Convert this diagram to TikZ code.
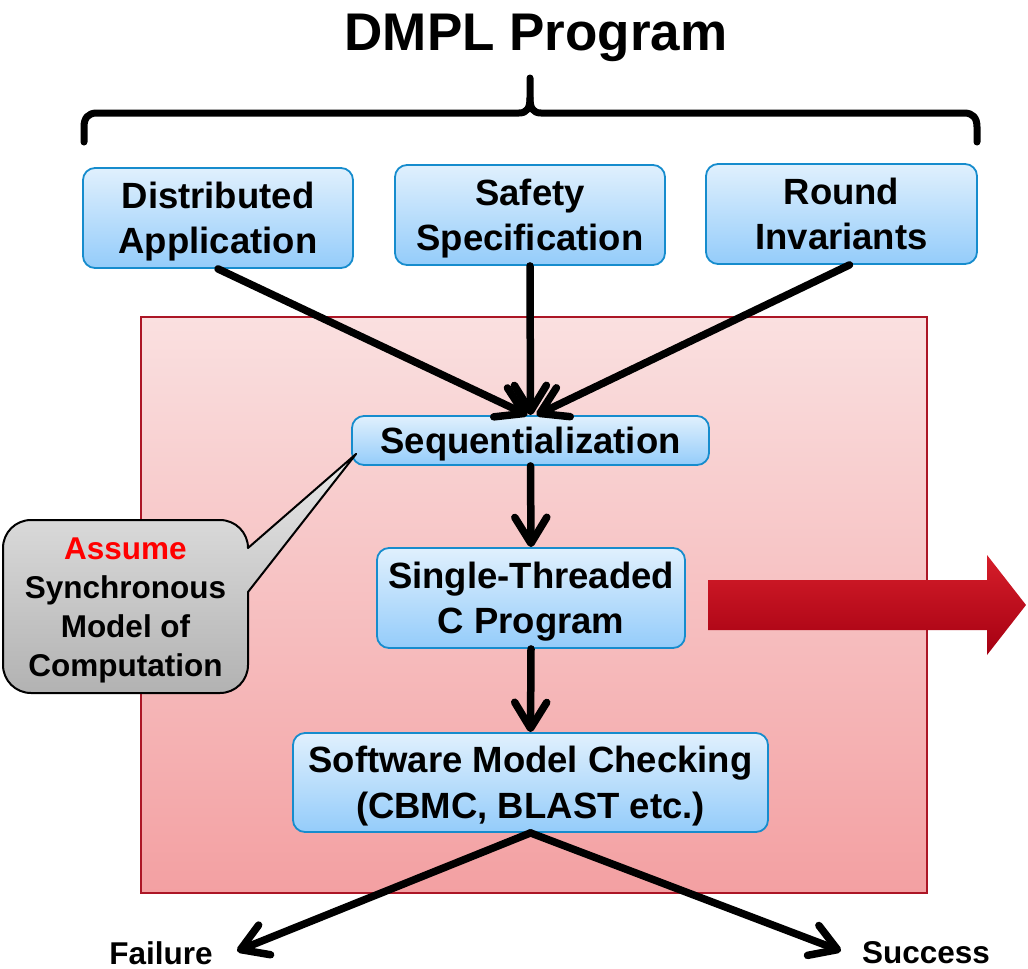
\documentclass[tikz,border=0pt]{standalone}
\usepackage{fontspec}
\setmainfont{Liberation Sans}
\usetikzlibrary{arrows.meta,calc}

\definecolor{boxtop}{RGB}{224,240,253}
\definecolor{boxbot}{RGB}{148,204,250}
\definecolor{boxline}{RGB}{22,140,205}
\definecolor{pinktop}{RGB}{250,224,224}
\definecolor{pinkbot}{RGB}{243,160,162}
\definecolor{pinkline}{RGB}{172,22,38}
\definecolor{calltop}{RGB}{232,232,232}
\definecolor{callbot}{RGB}{178,178,178}
\definecolor{arrowtop}{RGB}{214,30,42}
\definecolor{arrowbot}{RGB}{165,0,18}

\tikzset{
  % text is centred on its capital height: pad the top line up and the last line down
  stagebox/.style={draw=boxline, line width=1.8pt, rounded corners=12pt,
    top color=boxtop, bottom color=boxbot, align=center, inner sep=0pt,
    font=\fontsize{36.5}{45.5}\selectfont\bfseries,
    execute at begin node={\rule{0pt}{33.8pt}},
    execute at end node={\rule[-7.7pt]{0pt}{7.7pt}}},
  % two lines: the pad is measured from the baseline of the last line
  twoline/.style={execute at begin node={\rule{0pt}{79.3pt}}},
  flow/.style={line width=7.5pt, line cap=round,
    -{Straight Barb[length=26pt,width=32pt,line cap=round,line join=round]}},
  outcome/.style={font=\fontsize{31.5}{36}\selectfont\bfseries}
}

\begin{document}
\begin{tikzpicture}[x=1pt,y=-1pt]
\useasboundingbox (0,0) rectangle (1028,969);

% translation stage backdrop
\shade[top color=pinktop, bottom color=pinkbot] (141,317) rectangle (927,893);
\draw[pinkline, line width=2pt] (141,317) rectangle (927,893);

% title and brace
\node[font=\fontsize{53}{60}\selectfont\bfseries, anchor=base] (title) at (536,50) {DMPL Program};
\draw[line width=7pt, line cap=round, line join=round]
  (84,142) -- (84,127) .. controls (84,118) and (88,113) .. (97,113)
  -- (519,113) .. controls (527,113) and (530,108) .. (530,98) -- (530,78);
\draw[line width=7pt, line cap=round, line join=round]
  (530,98) .. controls (530,108) and (533,113) .. (541,113)
  -- (964,113) .. controls (973,113) and (977,118) .. (977,127) -- (977,142);

% inputs
\node[stagebox, twoline, minimum width=270pt, minimum height=100pt] (dist) at (218,218) {Distributed\\Application};
\node[stagebox, twoline, minimum width=270pt, minimum height=100pt] (safe) at (530,215) {Safety\\Specification};
\node[stagebox, twoline, minimum width=271pt, minimum height=100pt] (inv) at (841.5,214) {Round\\Invariants};

% pipeline
\node[stagebox, minimum width=357pt, minimum height=49pt] (seq) at (530.5,440.5) {Sequentialization};
\node[stagebox, twoline, minimum width=308pt, minimum height=100pt] (single) at (531,598) {Single-Threaded\\C Program};
\node[stagebox, twoline, minimum width=475pt, minimum height=99pt] (smc) at (530.5,782.5) {Software Model Checking\\(CBMC, BLAST etc.)};

% outcomes
\node[outcome] (fail) at (161,953) {Failure};
\node[outcome] (succ) at (926,953) {Success};
\coordinate (failtip) at (237,951);
\coordinate (succtip) at (841,951);

% connectors
\draw[flow] (dist.south) -- ($(seq.north)+(-3,0)$);
\draw[flow] (safe.south) -- (seq.north);
\draw[flow] ($(inv.south)+(8,0)$) -- ($(seq.north)+(6,0)$);
\draw[flow] (seq.south) -- (single.north);
\draw[flow] (single.south) -- (smc.north);
\draw[flow] (smc.south) -- (failtip);
\draw[flow] (smc.south) -- (succtip);

% output arrow
\shade[top color=arrowtop, bottom color=arrowbot]
  (708,580) -- (987,580) -- (987,555) -- (1026,605) -- (987,655) -- (987,630) -- (708,630) -- cycle;

% assumption callout
\coordinate (calltip) at ($(seq.south west)+(5,-12)$);
\shade[top color=calltop, bottom color=callbot]
  (248,548) -- (calltip) -- (248,592) -- (248,665)
  .. controls (248,680.5) and (235.5,693) .. (220,693) -- (31,693)
  .. controls (15.5,693) and (3,680.5) .. (3,665) -- (3,548)
  .. controls (3,532.5) and (15.5,520) .. (31,520) -- (220,520)
  .. controls (235.5,520) and (248,532.5) .. (248,548) -- cycle;
\draw[line width=2pt, line join=round]
  (248,548) -- (calltip) -- (248,592) -- (248,665)
  .. controls (248,680.5) and (235.5,693) .. (220,693) -- (31,693)
  .. controls (15.5,693) and (3,680.5) .. (3,665) -- (3,548)
  .. controls (3,532.5) and (15.5,520) .. (31,520) -- (220,520)
  .. controls (235.5,520) and (248,532.5) .. (248,548) -- cycle;
\node[align=center, font=\fontsize{31.5}{39}\selectfont\bfseries] (assume) at (125.5,610)
  {\textcolor{red}{Assume}\\Synchronous\\Model of\\Computation};
\end{tikzpicture}
\end{document}
